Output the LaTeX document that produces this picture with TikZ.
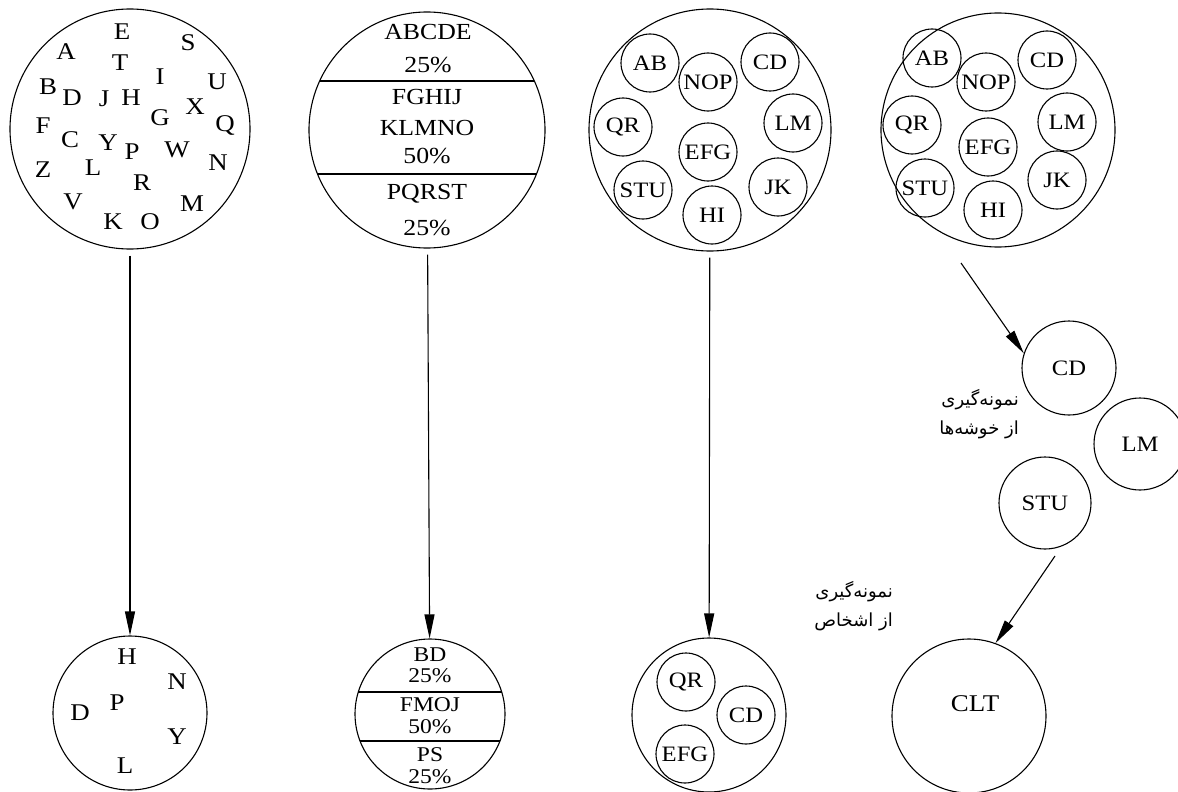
\documentclass[tikz,border=0pt]{standalone}
\usepackage{fontspec}
\setmainfont[FakeStretch=1.12]{Liberation Serif}
\newfontfamily\arabicfont[Script=Arabic]{DejaVu Sans}
\TeXXeTstate=1
\usetikzlibrary{arrows.meta}
\begin{document}
\begin{tikzpicture}[x=1pt,y=-1pt,
  big/.style={draw, circle, line width=1.1pt, inner sep=0pt},
  small/.style={draw, circle, line width=1.1pt, inner sep=0pt, minimum size=58pt, font=\fontsize{22}{24}\selectfont},
  lett/.style={font=\fontsize{24}{26}\selectfont, inner sep=0pt},
  pct/.style={font=\fontsize{23}{25}\selectfont, inner sep=0pt},
  pcts/.style={font=\fontsize{21}{22}\selectfont, inner sep=0pt},
  band/.style={line width=2pt},
  arr/.style={line width=1.1pt, -{Triangle[length=24pt,width=10pt]}},
  fa/.style={font=\arabicfont\fontsize{18}{29}\selectfont, align=right, inner sep=0pt}
]
\useasboundingbox[fill=white] (0,0) rectangle (1178,792);

% ---------- column 1 ----------
\node[big, minimum size=240pt] (c1) at (130,129) {};
\foreach \t/\x/\y in {E/122/32, S/188/43, A/66/52, T/120/63, I/160/77, U/217/82,
  B/48/87, D/72/98, J/104/99, H/131/98, X/195/107, G/160/118, Q/225/125,
  F/43/126, C/70/140, Y/108/143, P/132/152, W/177/150, N/218/163, Z/43/170,
  L/93/168, R/142/183, V/73/202, M/192/204, K/113/222, O/150/222}
  \node[lett] (p-\t) at (\x,\y) {\t};

\node[big, minimum size=154pt] (b1) at (130,713) {};
\foreach \t/\x/\y in {H/127/657, N/177/682, P/117/703, D/80/713, Y/177/737, L/125/766}
  \node[lett] (q-\t) at (\x,\y) {\t};

\draw[arr, shorten <=6pt] (c1) -- (b1);

% ---------- column 2 ----------
\node[big, minimum size=236pt] (c2) at (427,130) {};
\begin{scope}
  \clip (427,130) circle (118pt);
  \draw[band] (300,81) -- (560,81);
  \draw[band] (300,174) -- (560,174);
\end{scope}
\node[pct] (t2a) at (428,32) {ABCDE};
\node[pct] (t2b) at (428,65) {25\%};
\node[pct] (t2c) at (427,97) {FGHIJ};
\node[pct] (t2d) at (427,128) {KLMNO};
\node[pct] (t2e) at (427,156) {50\%};
\node[pct] (t2f) at (427,194) {PQRST};
\node[pct] (t2g) at (427,228) {25\%};

\node[big, minimum size=150pt] (b2) at (430,714) {};
\begin{scope}
  \clip (430,714) circle (75pt);
  \draw[band] (340,692) -- (520,692);
  \draw[band] (340,741) -- (520,741);
\end{scope}
\node[pcts] (u2a) at (430,655) {BD};
\node[pcts] (u2b) at (430,676) {25\%};
\node[pcts] (u2c) at (430,705) {FMOJ};
\node[pcts] (u2d) at (430,727) {50\%};
\node[pcts] (u2e) at (430,755) {PS};
\node[pcts] (u2f) at (430,777) {25\%};

\draw[arr, shorten <=6pt] (c2) -- (b2);

% ---------- column 3 ----------
\node[big, minimum size=242pt] (c3) at (710,130) {};
\node[small] (c3ab)  at (650,63)  {AB};
\node[small] (c3nop) at (708,82)  {NOP};
\node[small] (c3cd)  at (770,62)  {CD};
\node[small] (c3qr)  at (623,127) {QR};
\node[small] (c3lm)  at (793,123) {LM};
\node[small] (c3efg) at (708,152) {EFG};
\node[small] (c3stu) at (643,190) {STU};
\node[small] (c3jk)  at (778,187) {JK};
\node[small] (c3hi)  at (712,215) {HI};

\node[big, minimum size=154pt] (b3) at (709,715) {};
\node[small] (b3qr)  at (686,682) {QR};
\node[small] (b3cd)  at (746,715) {CD};
\node[small] (b3efg) at (685,754) {EFG};

\draw[arr, shorten <=6pt] (c3) -- (b3);

% ---------- column 4 ----------
\node[big, minimum size=234pt] (c4) at (998,130) {};
\node[small] (c4ab)  at (932,58)  {AB};
\node[small] (c4nop) at (986,82)  {NOP};
\node[small] (c4cd)  at (1047,60) {CD};
\node[small] (c4qr)  at (912,125) {QR};
\node[small] (c4lm)  at (1067,122) {LM};
\node[small] (c4efg) at (988,147) {EFG};
\node[small] (c4stu) at (925,188) {STU};
\node[small] (c4jk)  at (1057,180) {JK};
\node[small] (c4hi)  at (993,210) {HI};

\node[big, minimum size=94pt, font=\fontsize{22}{24}\selectfont] (s1) at (1069,368) {CD};
\node[big, minimum size=92pt, font=\fontsize{22}{24}\selectfont] (s2) at (1140,444) {LM};
\node[big, minimum size=92pt, font=\fontsize{22}{24}\selectfont] (s3) at (1045,503) {STU};

\node[big, minimum size=154pt] (clt) at (969,716) {};
\node[lett] (cltt) at (975,704) {CLT};

\coordinate (a4s) at (961,263);
\coordinate (a5s) at (1055,556);
\draw[arr] (a4s) -- (s1.162);
\draw[arr] (a5s) -- (clt.70);

% ---------- Persian labels ----------
\node[fa, anchor=east] (fa1) at (1019,414) {\beginR نمونه^^^^200cگیری\endR\\\beginR از خوشه^^^^200cها\endR};
\node[fa, anchor=east] (fa2) at (893,606) {\beginR نمونه^^^^200cگیری\endR\\\beginR از اشخاص\endR};
\end{tikzpicture}
\end{document}
